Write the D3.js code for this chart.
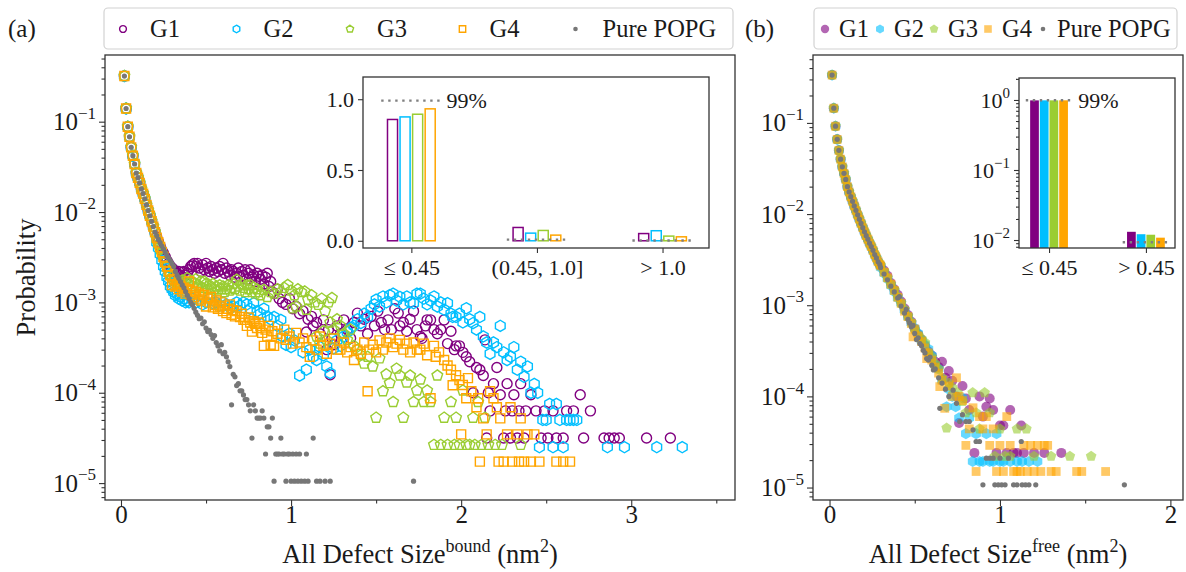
<!DOCTYPE html>
<html>
<head>
<meta charset="utf-8">
<script src="https://cdn.jsdelivr.net/npm/d3@7"></script>
<style>
  body { margin: 0; background: #fff; }
  text { font-family: "Liberation Serif", "DejaVu Serif", serif; fill: #1a1a1a; }
</style>
</head>
<body>
<svg id="chart"></svg>
<script>
// ---------- data: panel (a), bound defect sizes (nm^2, probability) ----------
const groupNames = ["G1", "G2", "G3", "G4"];
const pureName = "Pure POPG";

const headA = [[0.02,0.32],[0.03,0.14],[0.04,0.088],[0.05,0.068],[0.06,0.052],[0.07,0.042],[0.08,0.034],[0.09,0.027],
  [0.10,0.024],[0.11,0.021],[0.12,0.018],[0.13,0.016],[0.14,0.014],[0.15,0.012],[0.16,0.0104],[0.17,0.0091],
  [0.18,0.0079],[0.19,0.0069],[0.20,0.0060]];

const g1TailA = [[0.21,5.3e-3],[0.22,4.7e-3],[0.23,4.2e-3],[0.24,3.8e-3],[0.25,3.5e-3],[0.26,3.2e-3],[0.27,2.9e-3],[0.28,2.7e-3],
  [0.29,2.5e-3],[0.30,2.4e-3],[0.31,2.3e-3],[0.32,2.2e-3],[0.33,2.1e-3],[0.34,2.2e-3],[0.35,2.0e-3],[0.36,2.15e-3],[0.37,2.2e-3],
  [0.38,2.0e-3],[0.39,2.1e-3],[0.40,2.3e-3],[0.41,2.5e-3],[0.42,2.6e-3],[0.43,2.7e-3],[0.44,2.5e-3],[0.45,2.7e-3],[0.46,2.4e-3],
  [0.47,2.2e-3],[0.48,2.6e-3],[0.49,2.3e-3],[0.50,2.7e-3],[0.51,2.4e-3],[0.52,2.2e-3],[0.53,2.5e-3],[0.54,2.3e-3],[0.55,2.1e-3],
  [0.56,2.4e-3],[0.57,2.2e-3],[0.58,2.5e-3],[0.59,2.3e-3],[0.60,2.7e-3],[0.61,2.1e-3],[0.62,2.4e-3],[0.63,2.2e-3],[0.64,2.0e-3],
  [0.65,2.3e-3],[0.66,2.2e-3],[0.67,1.9e-3],[0.68,2.1e-3],[0.69,2.4e-3],[0.70,1.95e-3],[0.71,2.2e-3],[0.72,2.0e-3],[0.73,2.3e-3],
  [0.74,1.8e-3],[0.75,2.1e-3],[0.76,2.3e-3],[0.77,1.9e-3],[0.78,2.0e-3],[0.79,1.7e-3],[0.80,2.1e-3],[0.81,1.95e-3],[0.82,1.8e-3],
  [0.83,2.0e-3],[0.84,1.6e-3],[0.85,1.9e-3],[0.86,2.1e-3],[0.87,1.5e-3],[0.88,1.7e-3],[0.89,1.3e-3],[0.90,1.25e-3],[0.92,1.4e-3],
  [0.93,1.1e-3],[0.95,1.0e-3],[0.97,9.5e-4],[0.99,1.1e-3],[1.01,8.5e-4],[1.03,9.0e-4],[1.05,7.5e-4],[1.07,8.0e-4],[1.09,4.7e-4],
  [1.10,6.5e-4],[1.12,7.0e-4],[1.13,5.5e-4],[1.15,6.0e-4],[1.17,4.5e-4],[1.19,6.4e-4],[1.21,3.0e-4],[1.22,5.0e-4],[1.23,1.58e-4],
  [1.24,4.0e-4],[1.25,3.4e-4],[1.27,5.5e-4],[1.29,4.5e-4],[1.31,6.4e-4],[1.33,5.0e-4],[1.35,4.0e-4],[1.37,6.0e-4],[1.39,7.6e-4],
  [1.41,5.5e-4],[1.43,6.5e-4],[1.45,4.5e-4],[1.47,7.0e-4],[1.49,5.5e-4],[1.51,8.0e-4],[1.53,6.0e-4],[1.55,5.0e-4],[1.57,6.4e-4],
  [1.59,5.0e-4],[1.61,8.5e-4],[1.63,7.6e-4],[1.64,5.5e-4],[1.66,6.0e-4],[1.68,4.8e-4],[1.70,6.5e-4],[1.72,8.0e-4],[1.74,5.0e-4],
  [1.76,4.2e-4],[1.77,4.0e-4],[1.79,5.5e-4],[1.80,6.4e-4],[1.82,6.4e-4],[1.84,5.0e-4],[1.86,4.5e-4],[1.88,5.0e-4],[1.90,6.4e-4],
  [1.92,3.5e-4],[1.94,4.8e-4],[1.96,3.0e-4],[1.97,3.3e-4],[1.99,3.3e-4],[2.01,2.8e-4],[2.03,2.5e-4],[2.05,2.2e-4],[2.07,1.0e-4],
  [2.09,1.9e-4],[2.11,1.8e-4],[2.13,1.55e-4],[2.14,3.85e-4],[2.15,3.15e-5],[2.16,1.0e-4],[2.17,6.3e-5],[2.19,1.26e-4],[2.21,1.9e-4],
  [2.23,9.5e-5],[2.25,3.15e-5],[2.26,6.3e-5],[2.27,1.26e-4],[2.29,3.15e-5],[2.30,6.3e-5],[2.31,9.5e-5],[2.33,3.15e-5],[2.34,6.3e-5],
  [2.35,1.26e-4],[2.37,3.15e-5],[2.38,6.3e-5],[2.41,9.5e-5],[2.44,6.3e-5],[2.47,3.15e-5],[2.49,6.3e-5],[2.51,3.15e-5],[2.54,6.3e-5],
  [2.56,3.15e-5],[2.60,3.15e-5],[2.62,6.3e-5],[2.66,6.3e-5],[2.70,9.5e-5],[2.72,3.15e-5],[2.76,6.3e-5],[2.84,3.15e-5],[2.87,3.15e-5],
  [2.90,3.15e-5],[2.93,3.15e-5],[3.09,3.15e-5],[3.23,3.15e-5]];

const g2TailA = [[0.21,4.6e-3],[0.22,4.0e-3],[0.23,3.4e-3],[0.24,2.9e-3],[0.25,2.5e-3],[0.26,2.2e-3],[0.27,1.9e-3],[0.28,1.7e-3],
  [0.29,1.5e-3],[0.30,1.4e-3],[0.31,1.3e-3],[0.32,1.2e-3],[0.33,1.25e-3],[0.34,1.1e-3],[0.35,1.15e-3],[0.36,1.05e-3],[0.37,1.1e-3],
  [0.38,1.0e-3],[0.39,1.05e-3],[0.40,1.0e-3],[0.42,1.1e-3],[0.44,1.0e-3],[0.46,1.05e-3],[0.48,9.5e-4],[0.50,1.0e-3],[0.52,1.1e-3],
  [0.54,9.8e-4],[0.56,1.0e-3],[0.58,9.2e-4],[0.60,1.0e-3],[0.62,9.5e-4],[0.64,8.8e-4],[0.66,9.0e-4],[0.68,1.0e-3],[0.70,9.2e-4],
  [0.72,1.0e-3],[0.74,9.5e-4],[0.76,8.5e-4],[0.78,9.8e-4],[0.80,8.0e-4],[0.82,7.5e-4],[0.84,8.5e-4],[0.86,7.0e-4],[0.88,6.5e-4],
  [0.90,6.9e-4],[0.92,5.5e-4],[0.94,6.4e-4],[0.95,4.2e-4],[0.97,3.4e-4],[0.99,4.5e-4],[1.00,3.2e-4],[1.02,3.8e-4],[1.05,1.55e-4],
  [1.07,2.8e-4],[1.09,1.8e-4],[1.11,3.0e-4],[1.13,2.5e-4],[1.15,2.3e-4],[1.17,3.2e-4],[1.19,2.6e-4],[1.21,1.95e-4],[1.23,1.65e-4],
  [1.25,3.1e-4],[1.27,3.8e-4],[1.29,3.3e-4],[1.31,4.2e-4],[1.33,4.7e-4],[1.35,5.2e-4],[1.37,5.5e-4],[1.39,6.5e-4],[1.41,5.9e-4],
  [1.43,7.5e-4],[1.45,6.9e-4],[1.47,8.5e-4],[1.49,9.5e-4],[1.50,1.07e-3],[1.52,9.0e-4],[1.54,1.16e-3],[1.56,1.0e-3],[1.58,1.2e-3],
  [1.60,1.25e-3],[1.62,1.05e-3],[1.64,1.15e-3],[1.66,9.5e-4],[1.68,1.16e-3],[1.70,1.0e-3],[1.72,9.8e-4],[1.74,1.25e-3],[1.76,1.25e-3],
  [1.78,1.1e-3],[1.80,9.5e-4],[1.82,1.05e-3],[1.84,1.16e-3],[1.86,9.0e-4],[1.88,1.0e-3],[1.90,8.3e-4],[1.92,9.8e-4],[1.94,7.5e-4],
  [1.95,6.9e-4],[1.97,6.9e-4],[1.99,7.5e-4],[2.01,6.0e-4],[2.03,8.6e-4],[2.05,6.5e-4],[2.07,5.9e-4],[2.09,5.0e-4],[2.11,6.9e-4],
  [2.13,4.2e-4],[2.15,3.6e-4],[2.17,2.7e-4],[2.19,3.6e-4],[2.21,3.2e-4],[2.23,5.5e-4],[2.25,2.8e-4],[2.27,2.3e-4],[2.29,2.5e-4],
  [2.31,3.2e-4],[2.33,1.8e-4],[2.35,2.2e-4],[2.37,1.5e-4],[2.39,1.95e-4],[2.41,1.0e-4],[2.43,1.25e-4],[2.45,1.0e-4],[2.46,2.5e-5],
  [2.48,5.0e-5],[2.50,5.0e-5],[2.52,7.5e-5],[2.54,2.5e-5],[2.56,7.5e-5],[2.58,5.0e-5],[2.60,2.5e-5],[2.62,5.0e-5],[2.64,5.0e-5],
  [2.66,5.0e-5],[2.68,5.0e-5],[2.86,2.5e-5],[2.96,2.5e-5],[3.15,2.5e-5],[3.30,2.5e-5]];

const g3TailA = [[0.21,5.0e-3],[0.22,4.4e-3],[0.23,3.9e-3],[0.24,3.5e-3],[0.25,3.1e-3],[0.26,2.8e-3],[0.27,2.5e-3],[0.28,2.2e-3],
  [0.29,2.0e-3],[0.30,1.9e-3],[0.31,1.75e-3],[0.32,1.8e-3],[0.33,1.65e-3],[0.34,1.7e-3],[0.35,1.6e-3],[0.36,1.75e-3],[0.37,1.55e-3],
  [0.38,1.7e-3],[0.39,1.85e-3],[0.40,1.6e-3],[0.41,1.7e-3],[0.42,1.5e-3],[0.43,1.65e-3],[0.44,1.8e-3],[0.45,1.55e-3],[0.46,1.5e-3],
  [0.47,1.7e-3],[0.48,1.45e-3],[0.49,1.7e-3],[0.50,1.6e-3],[0.51,1.4e-3],[0.52,1.55e-3],[0.53,1.45e-3],[0.54,1.6e-3],[0.55,1.4e-3],
  [0.56,1.5e-3],[0.57,1.35e-3],[0.58,1.55e-3],[0.59,1.4e-3],[0.60,1.5e-3],[0.61,1.3e-3],[0.62,1.4e-3],[0.63,1.55e-3],[0.64,1.35e-3],
  [0.65,1.45e-3],[0.66,1.6e-3],[0.67,1.4e-3],[0.68,1.78e-3],[0.69,1.5e-3],[0.70,1.35e-3],[0.71,1.6e-3],[0.72,1.45e-3],[0.73,1.3e-3],
  [0.74,1.55e-3],[0.75,1.4e-3],[0.76,1.56e-3],[0.77,1.3e-3],[0.78,1.45e-3],[0.79,1.25e-3],[0.80,1.4e-3],[0.81,1.3e-3],[0.82,1.2e-3],
  [0.84,1.37e-3],[0.86,1.15e-3],[0.88,1.3e-3],[0.90,1.25e-3],[0.92,1.4e-3],[0.94,1.3e-3],[0.96,1.45e-3],[0.98,1.56e-3],[1.00,1.35e-3],
  [1.01,8.6e-4],[1.02,1.2e-3],[1.03,9.0e-4],[1.04,1.4e-3],[1.06,1.3e-3],[1.08,1.32e-3],[1.09,8.3e-4],[1.10,1.07e-3],[1.12,1.2e-3],
  [1.14,1.0e-3],[1.15,4.2e-4],[1.16,9.4e-4],[1.17,3.5e-4],[1.18,1.1e-3],[1.19,4.8e-4],[1.20,8.0e-4],[1.21,3.8e-4],[1.22,1.0e-3],
  [1.23,6.0e-4],[1.24,1.12e-3],[1.25,5.0e-4],[1.27,6.5e-4],[1.29,5.5e-4],[1.31,4.5e-4],[1.33,3.85e-4],[1.35,5.0e-4],[1.37,3.3e-4],
  [1.39,3.0e-4],[1.41,2.6e-4],[1.43,2.1e-4],[1.45,2.5e-4],[1.48,1.95e-4],[1.50,5.3e-5],[1.52,2.4e-4],[1.54,1.04e-4],[1.56,1.6e-4],
  [1.58,1.28e-4],[1.60,7.9e-5],[1.62,1.85e-4],[1.64,1.55e-4],[1.66,5.3e-5],[1.68,1.3e-4],[1.70,1.55e-4],[1.72,7.9e-5],[1.74,1.06e-4],
  [1.76,1.4e-4],[1.78,7.9e-5],[1.80,1.06e-4],[1.82,7.9e-5],[1.84,2.65e-5],[1.86,1.55e-4],[1.88,2.65e-5],[1.90,5.3e-5],[1.92,2.65e-5],
  [1.94,7.9e-5],[1.96,2.65e-5],[1.97,5.3e-5],[1.99,2.65e-5],[2.01,1.06e-4],[2.03,2.65e-5],[2.05,2.65e-5],[2.07,5.3e-5],[2.08,2.65e-5],
  [2.10,7.9e-5],[2.12,2.65e-5],[2.14,5.3e-5],[2.16,2.65e-5],[2.20,2.65e-5],[2.24,2.65e-5],[2.35,2.65e-5]];

const g4TailA = [[0.21,5.2e-3],[0.22,4.6e-3],[0.23,4.1e-3],[0.24,3.6e-3],[0.25,3.2e-3],[0.26,2.8e-3],[0.27,2.5e-3],[0.28,2.2e-3],
  [0.29,2.0e-3],[0.30,1.56e-3],[0.31,1.8e-3],[0.32,1.5e-3],[0.33,1.6e-3],[0.34,1.4e-3],[0.35,1.5e-3],[0.36,1.32e-3],[0.37,1.45e-3],
  [0.38,1.25e-3],[0.39,1.4e-3],[0.40,1.7e-3],[0.41,1.21e-3],[0.42,1.35e-3],[0.43,1.15e-3],[0.44,1.3e-3],[0.45,1.1e-3],[0.46,1.25e-3],
  [0.47,1.05e-3],[0.48,1.2e-3],[0.49,1.21e-3],[0.50,9.0e-4],[0.51,1.1e-3],[0.52,1.0e-3],[0.53,1.15e-3],[0.54,8.8e-4],[0.55,9.4e-4],
  [0.56,1.05e-3],[0.57,8.5e-4],[0.58,9.0e-4],[0.59,1.0e-3],[0.60,8.0e-4],[0.61,9.2e-4],[0.62,7.6e-4],[0.63,8.5e-4],[0.64,9.5e-4],
  [0.65,7.3e-4],[0.66,8.2e-4],[0.67,7.0e-4],[0.68,8.0e-4],[0.70,6.9e-4],[0.71,7.5e-4],[0.72,6.4e-4],[0.73,6.4e-4],[0.74,5.5e-4],
  [0.75,6.8e-4],[0.76,6.0e-4],[0.77,4.75e-4],[0.78,6.2e-4],[0.79,5.8e-4],[0.80,5.2e-4],[0.81,6.0e-4],[0.82,5.5e-4],[0.83,4.6e-4],
  [0.84,3.3e-4],[0.85,5.0e-4],[0.86,4.2e-4],[0.87,5.5e-4],[0.88,3.4e-4],[0.89,4.8e-4],[0.90,3.3e-4],[0.92,4.5e-4],[0.94,4.0e-4],
  [0.96,5.0e-4],[0.97,3.85e-4],[0.99,4.2e-4],[1.01,3.5e-4],[1.03,4.6e-4],[1.05,3.6e-4],[1.07,4.0e-4],[1.09,3.2e-4],[1.11,2.5e-4],
  [1.13,3.8e-4],[1.15,3.0e-4],[1.17,4.2e-4],[1.19,3.3e-4],[1.21,2.7e-4],[1.23,3.5e-4],[1.25,4.0e-4],[1.27,3.0e-4],[1.29,3.0e-4],
  [1.31,3.6e-4],[1.33,2.8e-4],[1.35,3.2e-4],[1.37,2.3e-4],[1.39,3.0e-4],[1.41,2.7e-4],[1.43,3.6e-4],[1.45,1.04e-4],[1.46,3.0e-4],
  [1.48,3.4e-4],[1.50,2.8e-4],[1.52,3.8e-4],[1.54,3.0e-4],[1.56,3.6e-4],[1.58,4.0e-4],[1.60,3.2e-4],[1.62,3.5e-4],[1.64,3.85e-4],
  [1.66,3.0e-4],[1.68,3.5e-4],[1.70,2.8e-4],[1.72,3.6e-4],[1.74,3.0e-4],[1.76,3.0e-4],[1.78,3.5e-4],[1.80,2.6e-4],[1.82,8.7e-5],
  [1.84,3.3e-4],[1.85,2.5e-4],[1.87,2.8e-4],[1.90,2.3e-4],[1.92,2.0e-4],[1.94,1.8e-4],[1.95,1.21e-4],[1.97,1.56e-4],[1.99,1.38e-4],
  [2.00,3.46e-5],[2.01,1.22e-4],[2.03,8.7e-5],[2.04,1.45e-4],[2.06,1.04e-4],[2.09,6.9e-5],[2.10,8.7e-5],[2.11,1.73e-5],[2.13,5.2e-5],
  [2.15,3.46e-5],[2.17,1.04e-4],[2.19,8.7e-5],[2.21,6.9e-5],[2.22,1.73e-5],[2.23,5.2e-5],[2.25,1.73e-5],[2.27,3.46e-5],[2.29,6.9e-5],
  [2.30,1.73e-5],[2.33,3.46e-5],[2.34,1.73e-5],[2.35,5.2e-5],[2.37,1.73e-5],[2.39,3.46e-5],[2.41,1.73e-5],[2.43,3.46e-5],[2.46,1.73e-5],
  [2.56,1.73e-5],[2.60,1.73e-5],[2.64,1.73e-5]];

const pureTailA = [[0.21,5.5e-3],[0.22,5.0e-3],[0.23,4.6e-3],[0.24,4.2e-3],[0.25,3.9e-3],[0.26,3.6e-3],[0.27,3.3e-3],[0.28,3.1e-3],
  [0.29,2.9e-3],[0.30,2.7e-3],[0.31,2.5e-3],[0.32,2.2e-3],[0.33,2.0e-3],[0.34,1.85e-3],[0.35,1.7e-3],[0.36,1.56e-3],[0.37,1.45e-3],
  [0.38,1.32e-3],[0.39,1.2e-3],[0.40,1.1e-3],[0.41,1.0e-3],[0.42,9.4e-4],[0.43,8.6e-4],[0.44,7.8e-4],[0.45,7.2e-4],[0.46,6.6e-4],
  [0.47,6.7e-4],[0.48,5.8e-4],[0.49,6.1e-4],[0.50,5.2e-4],[0.51,4.75e-4],[0.52,4.9e-4],[0.53,4.4e-4],[0.54,4.0e-4],[0.55,4.3e-4],
  [0.56,3.6e-4],[0.57,3.3e-4],[0.58,2.9e-4],[0.59,3.4e-4],[0.60,2.7e-4],[0.61,2.8e-4],[0.62,2.5e-4],[0.63,2.2e-4],[0.64,1.95e-4],
  [0.65,7.35e-5],[0.66,1.6e-4],[0.67,1.5e-4],[0.68,1.2e-4],[0.69,1.26e-4],[0.70,1.05e-4],[0.71,1.05e-4],[0.72,9.45e-5],[0.73,8.4e-5],
  [0.74,8.4e-5],[0.75,7.35e-5],[0.76,6.3e-5],[0.77,3.15e-5],[0.78,7.35e-5],[0.79,6.3e-5],[0.80,5.25e-5],[0.81,5.25e-5],[0.82,5.25e-5],
  [0.83,6.3e-5],[0.84,5.25e-5],[0.85,2.1e-5],[0.86,4.2e-5],[0.87,4.2e-5],[0.88,3.15e-5],[0.89,5.25e-5],[0.90,1.05e-5],[0.91,2.1e-5],
  [0.92,2.1e-5],[0.93,2.1e-5],[0.94,3.15e-5],[0.95,2.1e-5],[0.96,2.1e-5],[0.97,1.05e-5],[0.98,2.1e-5],[0.99,2.1e-5],[1.00,1.05e-5],
  [1.01,2.1e-5],[1.02,1.05e-5],[1.03,2.1e-5],[1.04,1.05e-5],[1.05,2.1e-5],[1.06,1.05e-5],[1.08,1.05e-5],[1.09,2.1e-5],[1.10,1.05e-5],
  [1.13,3.15e-5],[1.15,1.05e-5],[1.17,1.05e-5],[1.20,1.05e-5],[1.23,1.05e-5],[1.72,1.05e-5]];

// ---------- data: panel (b), free defect sizes ----------
const headB = [[0.015,0.335],[0.025,0.145],[0.035,0.092],[0.045,0.066],[0.055,0.05],[0.065,0.04],[0.075,0.033],[0.085,0.028],
  [0.095,0.024],[0.105,0.02],[0.115,0.0175],[0.125,0.0155],[0.135,0.0138],[0.145,0.0123],[0.155,0.011],[0.165,0.0098],
  [0.175,0.0088],[0.185,0.0079],[0.195,0.0071],[0.205,0.0064],[0.215,0.0058],[0.225,0.0053],[0.235,0.0048],[0.245,0.0044],
  [0.255,0.004],[0.265,0.0036],[0.275,0.0033],[0.285,0.003],[0.295,0.0028]];

const g1TailB = [[0.30,2.7e-3],[0.32,2.4e-3],[0.34,2.1e-3],[0.36,1.75e-3],[0.38,1.5e-3],[0.40,1.3e-3],[0.42,1.1e-3],[0.44,9.2e-4],
  [0.46,7.8e-4],[0.48,6.6e-4],[0.50,5.5e-4],[0.52,4.8e-4],[0.54,4.2e-4],[0.56,3.6e-4],[0.58,3.1e-4],[0.60,2.8e-4],[0.62,2.4e-4],
  [0.64,2.1e-4],[0.66,2.4e-4],[0.68,1.6e-4],[0.70,1.9e-4],[0.72,1.48e-4],[0.745,1.0e-4],[0.76,5.1e-5],[0.78,1.3e-4],[0.80,9.5e-5],
  [0.82,7.1e-5],[0.85,2.4e-5],[0.88,1.0e-4],[0.90,6.0e-5],[0.92,7.7e-5],[0.94,9.5e-5],[0.96,7.1e-5],[0.98,2.4e-5],[1.00,4.8e-5],
  [1.02,4.8e-5],[1.04,2.4e-5],[1.06,7.1e-5],[1.08,2.4e-5],[1.10,2.4e-5],[1.125,4.8e-5],[1.14,2.4e-5],[1.20,2.4e-5],[1.26,2.4e-5],
  [1.36,2.4e-5]];

const g2TailB = [[0.30,2.6e-3],[0.32,2.25e-3],[0.34,1.95e-3],[0.36,1.65e-3],[0.38,1.42e-3],[0.40,1.2e-3],[0.42,1.05e-3],[0.44,8.8e-4],
  [0.46,7.5e-4],[0.48,6.4e-4],[0.50,5.6e-4],[0.52,4.9e-4],[0.54,4.1e-4],[0.56,3.7e-4],[0.58,3.3e-4],[0.60,2.8e-4],[0.62,2.2e-4],
  [0.64,2.0e-4],[0.66,1.5e-4],[0.687,7.7e-5],[0.70,1.2e-4],[0.72,1.0e-4],[0.74,7.7e-5],[0.76,5.8e-5],[0.78,9.6e-5],[0.80,3.9e-5],
  [0.82,5.8e-5],[0.84,1.93e-5],[0.86,3.9e-5],[0.88,1.93e-5],[0.90,1.93e-5],[0.92,3.9e-5],[0.94,1.93e-5],[0.96,1.93e-5],[0.98,3.9e-5],
  [1.00,1.93e-5],[1.02,1.93e-5],[1.06,1.93e-5],[1.10,1.93e-5],[1.13,1.93e-5],[1.17,1.93e-5],[1.22,1.93e-5]];

const g3TailB = [[0.30,2.75e-3],[0.32,2.35e-3],[0.34,2.0e-3],[0.36,1.7e-3],[0.38,1.48e-3],[0.40,1.25e-3],[0.42,1.05e-3],[0.44,9.0e-4],
  [0.46,7.6e-4],[0.48,6.5e-4],[0.50,5.4e-4],[0.52,4.7e-4],[0.54,4.3e-4],[0.56,3.9e-4],[0.58,3.0e-4],[0.60,2.7e-4],[0.62,2.3e-4],
  [0.64,2.0e-4],[0.66,1.6e-4],[0.687,4.5e-5],[0.70,1.4e-4],[0.72,1.25e-4],[0.75,1.1e-4],[0.78,8.8e-5],[0.80,6.6e-5],[0.84,1.1e-4],
  [0.86,6.6e-5],[0.88,4.4e-5],[0.91,1.1e-4],[0.94,6.6e-5],[0.97,2.2e-5],[1.00,4.4e-5],[1.03,2.2e-5],[1.06,2.2e-5],[1.10,4.4e-5],
  [1.155,4.4e-5],[1.20,2.2e-5],[1.30,2.2e-5],[1.41,2.2e-5],[1.535,2.2e-5]];

const g4TailB = [[0.30,2.7e-3],[0.32,2.3e-3],[0.34,2.0e-3],[0.36,1.7e-3],[0.38,1.45e-3],[0.40,1.22e-3],[0.42,1.05e-3],[0.44,8.6e-4],
  [0.46,7.5e-4],[0.48,6.3e-4],[0.49,4.5e-4],[0.50,5.5e-4],[0.52,4.6e-4],[0.54,4.0e-4],[0.56,3.4e-4],[0.57,2.6e-4],[0.58,3.0e-4],
  [0.60,2.5e-4],[0.62,2.1e-4],[0.64,1.8e-4],[0.647,1.28e-4],[0.66,1.5e-4],[0.676,7.4e-5],[0.70,1.3e-4],[0.72,1.0e-4],[0.745,1.6e-4],
  [0.76,1.0e-4],[0.78,9.0e-5],[0.80,2.9e-5],[0.82,4.4e-5],[0.842,7.5e-5],[0.86,1.5e-5],[0.88,6.0e-5],[0.90,4.4e-5],[0.92,6.0e-5],
  [0.94,2.9e-5],[0.96,4.4e-5],[0.98,1.5e-5],[1.00,2.9e-5],[1.02,1.5e-5],[1.04,6.0e-5],[1.06,2.9e-5],[1.08,1.5e-5],[1.10,1.5e-5],
  [1.12,1.5e-5],[1.14,2.9e-5],[1.16,1.5e-5],[1.18,2.9e-5],[1.20,1.5e-5],[1.22,2.9e-5],[1.24,1.5e-5],[1.26,2.9e-5],[1.28,2.9e-5],
  [1.30,1.5e-5],[1.33,1.5e-5],[1.45,1.5e-5],[1.48,1.5e-5],[1.62,1.5e-5]];

const pureTailB = [[0.30,2.6e-3],[0.32,2.2e-3],[0.34,1.9e-3],[0.36,1.62e-3],[0.38,1.4e-3],[0.40,1.2e-3],[0.41,1.24e-3],[0.42,9.8e-4],
  [0.44,8.2e-4],[0.45,9.0e-4],[0.46,7.0e-4],[0.47,6.4e-4],[0.48,5.8e-4],[0.49,6.0e-4],[0.50,4.9e-4],[0.51,4.2e-4],[0.52,4.4e-4],
  [0.53,3.8e-4],[0.54,3.6e-4],[0.55,3.2e-4],[0.56,3.0e-4],[0.57,2.6e-4],[0.58,2.5e-4],[0.59,2.7e-4],[0.60,2.2e-4],[0.61,1.95e-4],
  [0.62,2.0e-4],[0.64,1.6e-4],[0.647,7.4e-5],[0.66,1.4e-4],[0.68,1.2e-4],[0.70,1.0e-4],[0.725,1.17e-4],[0.745,8.4e-5],[0.764,5.3e-5],
  [0.78,6.3e-5],[0.80,5.3e-5],[0.82,5.3e-5],[0.842,4.3e-5],[0.86,3.2e-5],[0.88,3.2e-5],[0.90,1.07e-5],[0.92,2.1e-5],[0.94,2.1e-5],
  [0.96,2.1e-5],[0.97,1.07e-5],[0.99,1.07e-5],[1.00,2.1e-5],[1.01,1.07e-5],[1.03,1.07e-5],[1.05,2.1e-5],[1.08,1.07e-5],[1.10,1.07e-5],
  [1.125,3.2e-5],[1.13,1.07e-5],[1.15,1.07e-5],[1.17,1.07e-5],[1.21,1.07e-5],[1.73,1.07e-5]];

// ---------- data: insets (fraction of defects per size class) ----------
const binLabelsA = ["\u2264 0.45", "(0.45, 1.0]", "> 1.0"];
const fracA = [[0.857, 0.094, 0.051], [0.875, 0.054, 0.071], [0.894, 0.073, 0.033], [0.932, 0.040, 0.028]];
const pureFracA = [0.99, 0.008, 0.002];
const binLabelsB = ["\u2264 0.45", "> 0.45"];
const fracB = [[0.987, 0.0131], [0.988, 0.0121], [0.988, 0.0119], [0.989, 0.0108]];
const pureFracB = [0.99, 0.0093];

const xTicksA = [0, 1, 2, 3];
const xTicksB = [0, 1, 2];
const yTicksMain = [1e-5, 1e-4, 1e-3, 1e-2, 1e-1];
const yTicksInsetA = [0, 0.5, 1.0];
const yTicksInsetB = [1e-2, 1e-1, 1];

// ---------- styling ----------
const colors = ["#800080", "#00bfff", "#9acd32", "#ffa500"];
const pureColor = "#777777";
const shapes = ["circle", "hexagon", "pentagon", "square"];
const ink = "#333";
const labelSize = 26.5;

const svg = d3.select("#chart").attr("width", 1186).attr("height", 572);
svg.append("rect").attr("width", 1186).attr("height", 572).attr("fill", "#fff");

function shapePath(shape, r) {
  if (shape === "circle") return `M${r},0A${r},${r} 0 1,1 ${-r},0A${r},${r} 0 1,1 ${r},0Z`;
  if (shape === "square") return `M${-r},${-r}H${r}V${r}H${-r}Z`;
  const n = shape === "hexagon" ? 6 : 5;
  const pts = d3.range(n).map(i => {
    const a = -Math.PI / 2 + i * 2 * Math.PI / n;
    return [r * Math.cos(a), r * Math.sin(a)];
  });
  return "M" + pts.map(p => p[0].toFixed(2) + "," + p[1].toFixed(2)).join("L") + "Z";
}
const sizeOpen = { circle: 5, hexagon: 5.6, pentagon: 5.6, square: 4.5 };
const sizeFill = { circle: 5, hexagon: 5.6, pentagon: 5.6, square: 4.4 };

function cleanAxis(sel) {
  sel.attr("font-family", null).attr("font-size", null);
  sel.select(".domain").remove();
  sel.selectAll(".tick line").attr("stroke", ink).attr("stroke-width", 1.1);
}

function powLabel(text, d, fs) {
  const e = Math.round(Math.log10(d));
  text.text(null).attr("font-size", fs);
  text.append("tspan").text("10");
  text.append("tspan").attr("dy", -0.45 * fs).attr("font-size", 0.68 * fs)
    .text(e < 0 ? "\u2212" + (-e) : String(e));
}

function logMinors(domain) {
  const out = [];
  for (let e = -7; e <= 1; e++) {
    for (let k = 2; k <= 9; k++) {
      const v = k * Math.pow(10, e);
      if (v >= domain[0] && v <= domain[1]) out.push(v);
    }
  }
  return out;
}

function mainPanel(p) {
  const g = svg.append("g");
  g.append("clipPath").attr("id", p.id).append("rect")
    .attr("x", p.left).attr("y", p.top).attr("width", p.right - p.left).attr("height", p.bottom - p.top);
  const pts = g.append("g").attr("clip-path", `url(#${p.id})`);

  p.series.forEach((data, i) => {
    const shape = shapes[i];
    pts.append("g").selectAll("path").data(data).join("path")
      .attr("transform", d => `translate(${p.x(d[0]).toFixed(2)},${p.y(d[1]).toFixed(2)})`)
      .attr("d", shapePath(shape, p.filled ? sizeFill[shape] : sizeOpen[shape]))
      .attr("fill", p.filled ? colors[i] : "none")
      .attr("fill-opacity", p.filled ? 0.6 : null)
      .attr("stroke", p.filled ? "none" : colors[i])
      .attr("stroke-width", 1.4);
  });
  pts.append("g").selectAll("circle").data(p.pure).join("circle")
    .attr("cx", d => p.x(d[0])).attr("cy", d => p.y(d[1]))
    .attr("r", 2.6).attr("fill", pureColor);

  // y axis (log)
  g.append("g").attr("transform", `translate(${p.left},0)`)
    .call(d3.axisLeft(p.y).tickValues(logMinors(p.y.domain())).tickSize(3.5).tickFormat(""))
    .call(cleanAxis);
  const ya = g.append("g").attr("transform", `translate(${p.left},0)`)
    .call(d3.axisLeft(p.y).tickValues(yTicksMain).tickSize(6).tickPadding(3))
    .call(cleanAxis);
  ya.selectAll(".tick text").each(function(d) { powLabel(d3.select(this), d, 25); });

  // x axis
  const minors = p.xTicks.map(t => t + 0.5).filter(v => v < p.x.domain()[1]);
  g.append("g").attr("transform", `translate(0,${p.bottom})`)
    .call(d3.axisBottom(p.x).tickValues(minors).tickSize(3.5).tickFormat(""))
    .call(cleanAxis);
  const xa = g.append("g").attr("transform", `translate(0,${p.bottom})`)
    .call(d3.axisBottom(p.x).tickValues(p.xTicks).tickSize(6).tickFormat(d3.format("d")))
    .call(cleanAxis);
  xa.selectAll(".tick text").attr("font-size", 25).attr("y", 23).attr("dy", null);

  // frame
  g.append("rect").attr("x", p.left).attr("y", p.top)
    .attr("width", p.right - p.left).attr("height", p.bottom - p.top)
    .attr("fill", "none").attr("stroke", ink).attr("stroke-width", 1.3);

  // x label with superscripts
  const sup = labelSize * 0.68, up = labelSize * 0.4;
  const t = g.append("text").attr("x", (p.left + p.right) / 2).attr("y", 563)
    .attr("text-anchor", "middle").attr("font-size", labelSize).style("white-space", "pre");
  t.append("tspan").text("All Defect Size");
  t.append("tspan").attr("dy", -up).attr("font-size", sup).text(p.sup);
  t.append("tspan").attr("dy", up).text(" (nm");
  t.append("tspan").attr("dy", -up).attr("font-size", sup).text("2");
  t.append("tspan").attr("dy", up).text(")");
  return g;
}

// ---------- panel (a) ----------
const xA = d3.scaleLinear().domain([-0.094, 3.61]).range([105, 735]);
const yA = d3.scaleLog().domain([6.5e-6, 0.547]).range([500, 55]);
mainPanel({
  id: "clipA", left: 105, right: 735, top: 55, bottom: 500, x: xA, y: yA,
  series: [headA.concat(g1TailA), headA.concat(g2TailA), headA.concat(g3TailA), headA.concat(g4TailA)],
  pure: headA.concat(pureTailA), filled: false, xTicks: xTicksA, sup: "bound"
});
svg.append("text").attr("transform", "translate(35,277.5) rotate(-90)")
  .attr("text-anchor", "middle").attr("font-size", labelSize).text("Probability");

// ---------- panel (b) ----------
const xB = d3.scaleLinear().domain([-0.097, 2.074]).range([813, 1183]);
const yB = d3.scaleLog().domain([7.3e-6, 0.556]).range([500, 55]);
mainPanel({
  id: "clipB", left: 813, right: 1183, top: 55, bottom: 500, x: xB, y: yB,
  series: [headB.concat(g1TailB), headB.concat(g2TailB), headB.concat(g3TailB), headB.concat(g4TailB)],
  pure: headB.concat(pureTailB), filled: true, xTicks: xTicksB, sup: "free"
});

// ---------- inset (a): linear fractions, open bars ----------
{
  const L = 363, R = 709, T = 77, B = 248;
  const g = svg.append("g");
  g.append("rect").attr("x", L).attr("y", T).attr("width", R - L).attr("height", B - T).attr("fill", "#fff");
  const x = d3.scaleLinear().domain([-0.385, 2.37]).range([L, R]);
  const y = d3.scaleLinear().domain([-0.051, 1.157]).range([B, T]);
  fracA.forEach((vals, gi) => {
    g.append("g").selectAll("rect").data(vals).join("rect")
      .attr("x", (d, ci) => x(ci + (gi - 1.5) * 0.1 - 0.04))
      .attr("width", x(0.08) - x(0))
      .attr("y", d => y(d)).attr("height", d => y(0) - y(d))
      .attr("fill", "none").attr("stroke", colors[gi]).attr("stroke-width", 1.5);
  });
  g.append("g").selectAll("line").data(pureFracA).join("line")
    .attr("x1", (d, ci) => x(ci - 0.24)).attr("x2", (d, ci) => x(ci + 0.24))
    .attr("y1", d => y(d)).attr("y2", d => y(d))
    .attr("stroke", "#808080").attr("stroke-width", 2.4).attr("stroke-dasharray", "2.4,4.6");
  g.append("text").attr("x", x(0.24) + 5).attr("y", y(pureFracA[0]) + 7.5)
    .attr("font-size", 22).text(d3.format(".0%")(pureFracA[0]));
  const ya = g.append("g").attr("transform", `translate(${L},0)`)
    .call(d3.axisLeft(y).tickValues(yTicksInsetA).tickSize(5).tickPadding(4).tickFormat(d3.format(".1f")))
    .call(cleanAxis);
  ya.selectAll(".tick text").attr("font-size", 22);
  const xa = g.append("g").attr("transform", `translate(0,${B})`)
    .call(d3.axisBottom(x).tickValues([0, 1, 2]).tickSize(5).tickFormat(i => binLabelsA[i]))
    .call(cleanAxis);
  xa.selectAll(".tick text").attr("font-size", 22).attr("y", 27).attr("dy", null);
  g.append("rect").attr("x", L).attr("y", T).attr("width", R - L).attr("height", B - T)
    .attr("fill", "none").attr("stroke", ink).attr("stroke-width", 1.3);
}

// ---------- inset (b): log fractions, filled bars ----------
{
  const L = 1019, R = 1175, T = 78, B = 248;
  const g = svg.append("g");
  g.append("rect").attr("x", L).attr("y", T).attr("width", R - L).attr("height", B - T).attr("fill", "#fff");
  const x = d3.scaleLinear().domain([-0.31, 1.30]).range([L, R]);
  const y = d3.scaleLog().domain([0.00769, 2.06]).range([B, T]);
  fracB.forEach((vals, gi) => {
    g.append("g").selectAll("rect").data(vals).join("rect")
      .attr("x", (d, ci) => x(ci + (gi - 1.5) * 0.1 - 0.045))
      .attr("width", x(0.09) - x(0))
      .attr("y", d => y(d)).attr("height", d => B - y(d))
      .attr("fill", colors[gi]);
  });
  g.append("g").selectAll("line").data(pureFracB).join("line")
    .attr("x1", (d, ci) => x(ci - 0.24)).attr("x2", (d, ci) => x(ci + 0.24))
    .attr("y1", d => y(d)).attr("y2", d => y(d))
    .attr("stroke", "#808080").attr("stroke-width", 2.4).attr("stroke-dasharray", "2.4,4.6");
  g.append("text").attr("x", x(0.24) + 6).attr("y", y(pureFracB[0]) + 7.5)
    .attr("font-size", 22).text(d3.format(".0%")(pureFracB[0]));
  g.append("g").attr("transform", `translate(${L},0)`)
    .call(d3.axisLeft(y).tickValues(logMinors(y.domain())).tickSize(3).tickFormat(""))
    .call(cleanAxis);
  const ya = g.append("g").attr("transform", `translate(${L},0)`)
    .call(d3.axisLeft(y).tickValues(yTicksInsetB).tickSize(5).tickPadding(4))
    .call(cleanAxis);
  ya.selectAll(".tick text").each(function(d) { powLabel(d3.select(this), d, 22); });
  const xa = g.append("g").attr("transform", `translate(0,${B})`)
    .call(d3.axisBottom(x).tickValues([0, 1]).tickSize(5).tickFormat(i => binLabelsB[i]))
    .call(cleanAxis);
  xa.selectAll(".tick text").attr("font-size", 22).attr("y", 27).attr("dy", null);
  g.append("rect").attr("x", L).attr("y", T).attr("width", R - L).attr("height", B - T)
    .attr("fill", "none").attr("stroke", ink).attr("stroke-width", 1.3);
}

// ---------- legends ----------
function legend(box, markerX, textDx, filled) {
  const g = svg.append("g");
  g.append("rect").attr("x", box[0]).attr("y", 8).attr("width", box[1] - box[0]).attr("height", 41)
    .attr("rx", 4).attr("fill", "#fff").attr("stroke", "#d2d2d2").attr("stroke-width", 1.2);
  const names = groupNames.concat([pureName]);
  names.forEach((name, i) => {
    const mx = markerX[i];
    if (i < 4) {
      const r = filled ? { circle: 4.2, hexagon: 4.6, pentagon: 4.6, square: 3.8 }[shapes[i]]
                       : { circle: 3.4, hexagon: 3.8, pentagon: 3.8, square: 3.2 }[shapes[i]];
      g.append("path").attr("transform", `translate(${mx},29)`).attr("d", shapePath(shapes[i], r))
        .attr("fill", filled ? colors[i] : "none").attr("fill-opacity", filled ? 0.6 : null)
        .attr("stroke", filled ? "none" : colors[i]).attr("stroke-width", 1.4);
    } else {
      g.append("circle").attr("cx", mx).attr("cy", 29).attr("r", 2.3).attr("fill", pureColor);
    }
    g.append("text").attr("x", mx + textDx).attr("y", 37).attr("font-size", 24.5).text(name);
  });
}
legend([104, 733], [123, 236.5, 350, 462.5, 575.5], 27, false);
legend([814, 1177], [825, 880, 934, 988, 1043], 14, true);

svg.append("text").attr("x", 8).attr("y", 37).attr("font-size", 25).text("(a)");
svg.append("text").attr("x", 745).attr("y", 37).attr("font-size", 25).text("(b)");
</script>
</body>
</html>
